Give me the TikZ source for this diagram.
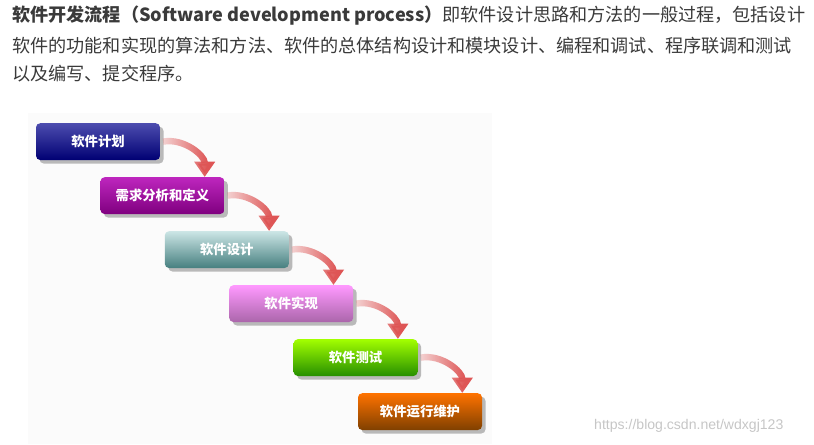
\documentclass[tikz,border=0pt]{standalone}
\usepackage{fontspec}
\setmainfont{Noto Sans CJK SC}
\newfontfamily\webfont{Liberation Sans}
\usetikzlibrary{arrows.meta,shadows,fadings}

\definecolor{bodytext}{HTML}{3A3A3A}
\definecolor{arrowred}{HTML}{DE5555}
\tikzfading[name=arrowfade, left color=transparent!80, right color=transparent!0]

\begin{document}
\begin{tikzpicture}[node distance=1.35cm, auto,
  stage/.style={rectangle, rounded corners=3pt, minimum width=3.1cm, minimum height=0.92cm,
    text=white, font=\fontsize{9.5pt}{11pt}\selectfont\bfseries,
    drop shadow={shadow xshift=2.5pt, shadow yshift=-2.5pt, fill=gray!55, opacity=1}},
  flow/.style={draw=arrowred, line width=0.16cm, path fading=arrowfade,
    -{Triangle[width=0.5cm,length=0.38cm]}},
  line/.style={anchor=west, inner sep=0pt, text=bodytext, font=\fontsize{12.9pt}{14pt}\selectfont}]
  \useasboundingbox (0,0) rectangle (20.35,-11.1);
  \fill[gray!3] (0.7,-2.82) rectangle (12.3,-11.1);

  % intro text
  \node[line] (line1) at (0.3,-0.38) {\textbf{软件开发流程（Software development process）}即软件设计思路和方法的一般过程，包括设计};
  \node[line] (line2) at (0.3,-1.13) {软件的功能和实现的算法和方法、软件的总体结构设计和模块设计、编程和调试、程序联调和测试};
  \node[line] (line3) at (0.3,-1.83) {以及编写、提交程序。};

  % stages
  \node[stage, top color=blue!55!black!70!white, bottom color=blue!45!black] (plan) at (2.45,-3.54) {软件计划};
  \node[stage, top color=magenta!70!black!85!white, bottom color=magenta!50!black, below of=plan, xshift=1.61cm] (req) {需求分析和定义};
  \node[stage, top color=teal!20!white, bottom color=teal!45!gray, below of=req, xshift=1.61cm] (design) {软件设计};
  \node[stage, top color=magenta!40!white, bottom color=magenta!45!black!60!white, below of=design, xshift=1.61cm] (impl) {软件实现};
  \node[stage, top color=lime!85!green, bottom color=green!45!black!80!lime, below of=impl, xshift=1.61cm] (test) {软件测试};
  \node[stage, top color=orange!90!red, bottom color=orange!50!black, below of=test, xshift=1.61cm] (maint) {软件运行维护};

  \draw[flow] ([xshift=2pt]plan.east) to[out=10, in=90] ([xshift=-0.5cm]req.north east);
  \draw[flow] ([xshift=2pt]req.east) to[out=10, in=90] ([xshift=-0.5cm]design.north east);
  \draw[flow] ([xshift=2pt]design.east) to[out=10, in=90] ([xshift=-0.5cm]impl.north east);
  \draw[flow] ([xshift=2pt]impl.east) to[out=10, in=90] ([xshift=-0.5cm]test.north east);
  \draw[flow] ([xshift=2pt]test.east) to[out=10, in=90] ([xshift=-0.5cm]maint.north east);

  \node[text=gray!45, font=\webfont\fontsize{10pt}{12pt}\selectfont] (mark) at (17.22,-10.65) {https://blog.csdn.net/wdxgj123};
\end{tikzpicture}
\end{document}
